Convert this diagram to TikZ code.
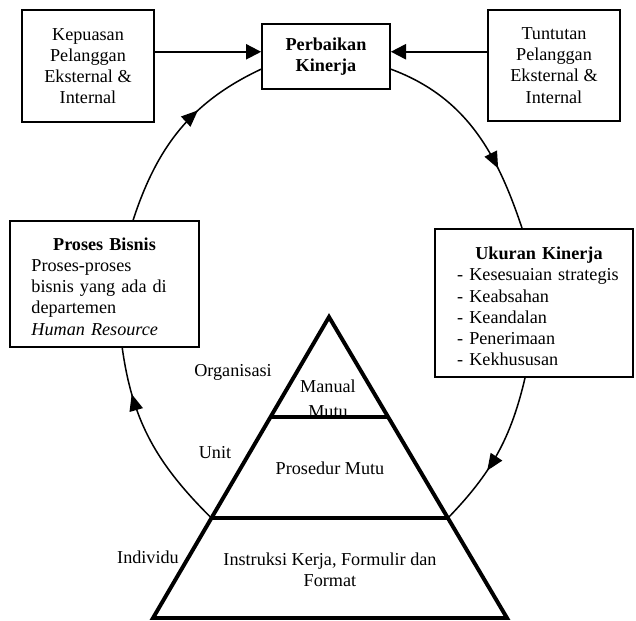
\documentclass[tikz,border=0pt]{standalone}
\usepackage{fontspec}
\setmainfont{Liberation Serif}
\usetikzlibrary{arrows.meta,decorations.markings,calc}
\begin{document}
\begin{tikzpicture}[x=0.66pt,y=-0.66pt,
  font=\fontsize{12}{14}\selectfont,
  box/.style={draw, line width=1.1pt, inner sep=0pt, align=center},
  harrow/.style={line width=1.3pt, -{Triangle[length=10pt,width=10pt]}},
  arcline/.style={line width=1pt},
  midarrow/.style={postaction={decorate}, decoration={markings,
     mark=at position #1 with {\arrow{Triangle[length=11pt,width=9pt]}}}},
  pyr/.style={line width=2.6pt},
  lbl/.style={inner sep=0pt}]
\useasboundingbox (0,0) rectangle (636,620);

% boxes
\node[box, minimum width=87.1pt, minimum height=73.9pt] (kep) at (88,66)
  {Kepuasan\\Pelanggan\\Eksternal \&\\Internal};
\node[box, minimum width=84.5pt, minimum height=42.9pt] (perb) at (326,56.5)
  {\textbf{Perbaikan}\\\textbf{Kinerja}};
\node[box, minimum width=87.1pt, minimum height=73.3pt] (tun) at (554,65.5)
  {Tuntutan\\Pelanggan\\Eksternal \&\\Internal};
\node[box, minimum width=124.7pt, minimum height=83.2pt] (pros) at (104.5,284) {};
\node[lbl, text width=96.4pt] (prostext) at (104.5,286.5)
  {{\centering\textbf{Proses Bisnis}\par}\raggedright Proses-proses\par
   \makebox[\linewidth][s]{bisnis yang ada di}\par departemen\par
   \textit{Human Resource}\par};
\node[box, minimum width=130.7pt, minimum height=97.7pt] (uk) at (534,303) {};
\node[lbl, text width=108pt] (uktext) at (539,306.5)
  {{\centering\textbf{Ukuran Kinerja}\par}\raggedright
   - Kesesuaian strategis\par - Keabsahan\par - Keandalan\par
   - Penerimaan\par - Kekhususan\par};

% horizontal arrows
\coordinate (ka) at ($(kep.north east)!0.375!(kep.south east)$);
\coordinate (ta) at ($(tun.north west)!0.378!(tun.south west)$);
\draw[harrow] (ka) -- (ka -| perb.west);
\draw[harrow] (ta) -- (ta -| perb.east);

% pyramid texts
\node[lbl] (manual) at (328,386) {Manual};
\node[lbl] (mutu) at (328,412) {Mutu};
\node[lbl] (prosedur) at (330,468) {Prosedur Mutu};
\node[lbl, align=center] (instr) at (330,570) {Instruksi Kerja, Formulir dan\\Format};
\node[lbl] (org) at (233,372) {Organisasi};
\node[lbl] (unit) at (215,453) {Unit};
\node[lbl] (indiv) at (148,557) {Individu};

% pyramid
\coordinate (apex) at (329,317);
\coordinate (bl) at (153,618);
\coordinate (br) at (507,618);
\coordinate (l1) at ($(apex)!0.332!(bl)$);
\coordinate (r1) at ($(apex)!0.332!(br)$);
\coordinate (l2) at ($(apex)!0.668!(bl)$);
\coordinate (r2) at ($(apex)!0.668!(br)$);
\draw[pyr] (apex) -- (bl) -- (br) -- cycle;
\draw[pyr] (l1) -- (r1);
\draw[pyr] (l2) -- (r2);

% cycle arcs
\coordinate (a1s) at ($(pros.north west)!0.65!(pros.north east)$);
\coordinate (a1e) at ($(perb.south west)!0.31!(perb.north west)$);
\coordinate (a2s) at ($(perb.south east)!0.31!(perb.north east)$);
\coordinate (a2e) at ($(uk.north west)!0.44!(uk.north east)$);
\coordinate (a3s) at ($(uk.south west)!0.455!(uk.south east)$);
\coordinate (a4e) at ($(pros.south west)!0.593!(pros.south east)$);
\draw[arcline, midarrow=0.63] (a1s) .. controls (157,147) and (191,102) .. (a1e);
\draw[arcline, midarrow=0.7] (a2s) .. controls (466,97) and (497,153) .. (a2e);
\draw[arcline, midarrow=0.62] (a3s) .. controls (511,438) and (491.5,473) .. (r2);
\draw[arcline, midarrow=0.76] (l2) .. controls (157,464) and (132.6,422) .. (a4e);
\end{tikzpicture}
\end{document}
